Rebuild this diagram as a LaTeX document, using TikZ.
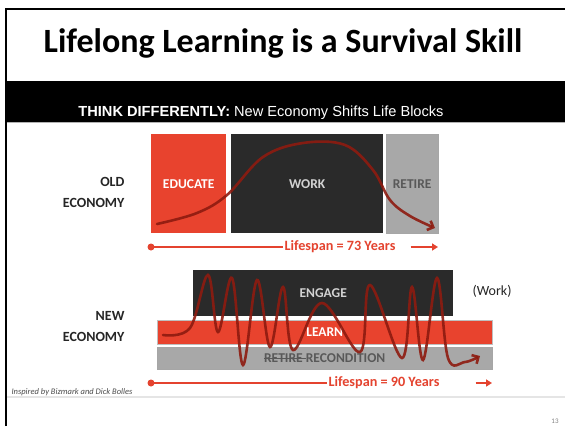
\documentclass[tikz,border=0pt]{standalone}
\usepackage{fontspec}
\setmainfont{Carlito}
\newfontfamily\arialfont{Liberation Sans}
\usetikzlibrary{arrows.meta}
\definecolor{eduRed}{HTML}{E8432E}
\definecolor{workBlack}{HTML}{2A2A2A}
\definecolor{retireGray}{HTML}{A8A8A8}
\definecolor{curveRed}{HTML}{8E1B10}
\definecolor{lifeRed}{HTML}{E4432F}
\newcommand\struckword[1]{\setbox0\hbox{#1}\rlap{\rule[0.3em]{\dimexpr\wd0+3pt\relax}{0.7pt}}\box0\relax}

\tikzset{
  block/.style={anchor=north west, inner sep=0pt, font=\bfseries\fontsize{13.5}{16}\selectfont},
  econ/.style={anchor=east, align=right, font=\bfseries\fontsize{14}{21}\selectfont, text=black!85},
  life/.style={text=lifeRed, font=\bfseries\fontsize{14.2}{17}\selectfont, inner sep=1pt},
  lifedot/.style={circle, fill=lifeRed, inner sep=0pt, minimum size=7pt},
  lifeline/.style={lifeRed, line width=2pt},
  wave/.style={curveRed, opacity=0.9, line width=2.6pt, line cap=round,
    -{Straight Barb[length=5pt,width=10pt]}},
}

\begin{document}
\begin{tikzpicture}[x=1pt, y=-1pt]
  \useasboundingbox (0,0) rectangle (565,426);
  \fill[white] (0,0) rectangle (565,426);

  % frame, title and band
  \draw[black, line width=2pt] (6,426) |- (565,9.3);
  \node[font=\bfseries\fontsize{34}{40}\selectfont] (title) at (283,43) {Lifelong Learning is a Survival Skill};
  \fill[black] (7,81) rectangle (565,122);
  \draw[gray!60, line width=1pt] (7,122.5) -- (565,122.5);
  \node[font=\arialfont\fontsize{14.6}{17}\selectfont, text=white] (sub) at (261,112.5)
    {\textbf{THINK DIFFERENTLY:} New Economy Shifts Life Blocks};

  % old economy
  \node[econ] (old) at (128,192) {OLD\\ECONOMY};
  \node[block, fill=eduRed, text=white, minimum width=75pt, minimum height=99pt] (educate) at (151,134) {EDUCATE};
  \node[block, fill=workBlack, text=gray!35, minimum width=152pt, minimum height=99pt] (work) at (231,134) {WORK};
  \node[block, fill=retireGray, draw=gray!70, text=black!65, minimum width=52pt, minimum height=99pt] (retire) at (386,134) {RETIRE};
  \draw[wave] plot[smooth, tension=0.6] coordinates {(157,224) (197,213) (227,195) (263,157) (303,143) (345,145) (373,170) (390,200) (410,216) (435,228)};

  \node[lifedot] (dot73) at (151,247) {};
  \node[life] (ls73) at (340,247) {Lifespan = 73 Years};
  \coordinate (end73) at (438,247);
  \draw[lifeline] (dot73.center) -- (ls73.west);
  \draw[lifeline, -{Triangle[length=6pt,width=7pt]}] ([xshift=14pt]ls73.east) -- (end73);

  % new economy
  \node[econ] (new) at (128,326.5) {NEW\\ECONOMY};
  \node[block, fill=workBlack, text=gray!35, minimum width=260pt, minimum height=46pt] (engage) at (193,270) {ENGAGE};
  \node[block, fill=eduRed, draw=gray!50, text=white, minimum width=335pt, minimum height=24pt] (learn) at (157,320) {LEARN};
  \node[block, fill=retireGray, draw=gray!70, text=black!65, minimum width=335pt, minimum height=22pt] (recond) at (157,347) {\struckword{RETIRE} RECONDITION};
  \node[font=\fontsize{14}{16}\selectfont, text=black!85] (worklbl) at (492,291) {(Work)};
  \draw[wave] plot[smooth, tension=0.6] coordinates {(163,335) (190,328) (208,275) (218,332) (232,278) (243,365) (257,280) (270,347) (283,287) (293,350) (322,303) (360,352) (370,285) (402,358) (412,287) (423,360) (437,278) (448,358) (465,362) (480,356)};

  \node[lifedot] (dot90) at (151,383) {};
  \node[life] (ls90) at (384,383) {Lifespan = 90 Years};
  \coordinate (end90) at (492,383);
  \draw[lifeline] (dot90.center) -- (ls90.west);
  \draw[lifeline, -{Triangle[length=6pt,width=7pt]}] ([xshift=35pt]ls90.east) -- (end90);

  % footer
  \draw[gray!20, line width=1.5pt] (7,397) -- (565,397);
  \node[anchor=west, font=\itshape\fontsize{8.5}{10}\selectfont, text=black!70] (credit) at (8,392) {Inspired by Bizmark and Dick Bolles};
  \node[font=\fontsize{7}{8}\selectfont, text=gray] (pagenum) at (555,421) {13};
\end{tikzpicture}
\end{document}
